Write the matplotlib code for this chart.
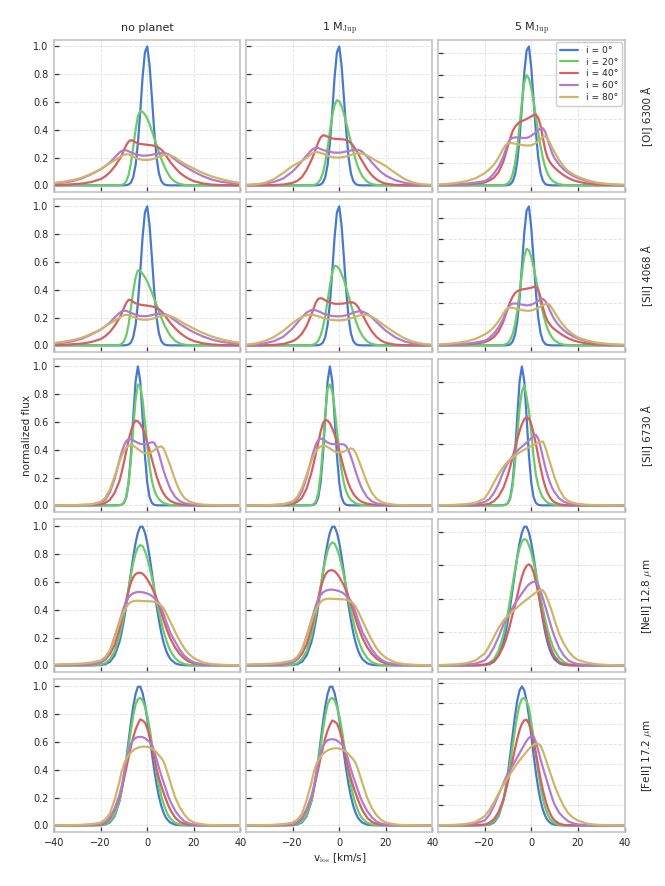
import matplotlib
matplotlib.use("Agg")
import matplotlib.pyplot as plt
import numpy as np
from matplotlib.ticker import MultipleLocator, FixedLocator

plt.rcParams["font.family"] = ["DejaVu Sans"]
plt.rcParams["mathtext.fontset"] = "cm"

# line-of-sight velocity grid [km/s]
velocity = [-40, -36, -32, -28, -24, -20, -18, -16, -14,
            -12, -11, -10, -9, -8, -7, -6, -5, -4, -3, -2, -1, 0, 1, 2, 3, 4, 5, 6, 7, 8, 9, 10,
            12, 14, 16, 18, 20, 24, 28, 32, 36, 40]

inclination_labels = ["i = 0°", "i = 20°", "i = 40°", "i = 60°", "i = 80°"]
col_titles = ["no planet", r"1 M$_{\rm Jup}$", r"5 M$_{\rm Jup}$"]
row_labels = ["[OI] 6300 Å", "[SII] 4068 Å", "[SII] 6730 Å",
              r"[NeII] 12.8 $\mu$m", r"[FeII] 17.2 $\mu$m"]
# peak flux of the i=0 profile in the units of the 5 M_Jup column (own y scale)
peak_5mjup = [1.258, 1.311, 0.90, 0.833, 1.365]

Z9 = [0] * 9
Z10 = [0] * 10

# ---------------- [OI] 6300 ----------------
blue_oi = Z9 + [0, 0, 0.0003, 0.0014, 0.006, 0.02, 0.06, 0.147, 0.305, 0.531, 0.778, 0.958, 1.0, 0.864, 0.632, 0.389, 0.201, 0.087, 0.032, 0.01, 0.0025, 0.0006, 0] + Z10
blue_5mj = Z9 + [0, 0, 0.002, 0.008, 0.027, 0.073, 0.172, 0.34, 0.569, 0.808, 0.97, 1.0, 0.849, 0.619, 0.382, 0.199, 0.088, 0.033, 0.01, 0.003, 0.001, 0, 0] + Z10

oi6300_noplanet = [
    blue_oi,
    Z9 + [0.001, 0.003, 0.01, 0.03, 0.075, 0.16, 0.28, 0.4, 0.5, 0.536, 0.53, 0.51, 0.48, 0.44, 0.39, 0.34, 0.29, 0.24, 0.19, 0.15, 0.112, 0.082, 0.056] + [0.025, 0.01, 0.003, 0.001, 0, 0, 0, 0, 0, 0],
    [0.002, 0.004, 0.008, 0.013, 0.024, 0.045, 0.065, 0.095, 0.135] + [0.185, 0.215, 0.255, 0.29, 0.315, 0.326, 0.32, 0.31, 0.303, 0.298, 0.296, 0.294, 0.292, 0.29, 0.288, 0.284, 0.279, 0.27, 0.258, 0.24, 0.215, 0.19, 0.165] + [0.125, 0.09, 0.065, 0.045, 0.03, 0.013, 0.005, 0.002, 0.001, 0],
    [0.014, 0.02, 0.03, 0.05, 0.08, 0.115, 0.138, 0.165, 0.2] + [0.235, 0.248, 0.255, 0.252, 0.245, 0.237, 0.23, 0.225, 0.22, 0.216, 0.214, 0.214, 0.215, 0.217, 0.22, 0.224, 0.227, 0.23, 0.231, 0.231, 0.23, 0.225, 0.212] + [0.185, 0.16, 0.138, 0.118, 0.098, 0.065, 0.04, 0.025, 0.017, 0.011],
    [0.017, 0.026, 0.038, 0.055, 0.083, 0.115, 0.14, 0.16, 0.18] + [0.2, 0.212, 0.22, 0.224, 0.222, 0.215, 0.206, 0.198, 0.192, 0.187, 0.184, 0.183, 0.183, 0.185, 0.188, 0.193, 0.199, 0.205, 0.211, 0.216, 0.219, 0.219, 0.215] + [0.2, 0.175, 0.155, 0.138, 0.12, 0.088, 0.062, 0.044, 0.028, 0.017],
]
oi6300_1mjup = [
    blue_oi,
    Z9 + [0.001, 0.003, 0.008, 0.02, 0.045, 0.09, 0.165, 0.27, 0.39, 0.5, 0.58, 0.613, 0.605, 0.57, 0.515, 0.45, 0.38, 0.31, 0.245, 0.185, 0.135, 0.095, 0.063] + [0.026, 0.009, 0.003, 0.001, 0, 0, 0, 0, 0, 0],
    [0, 0, 0.001, 0.002, 0.006, 0.018, 0.032, 0.06, 0.11] + [0.18, 0.22, 0.265, 0.31, 0.345, 0.36, 0.358, 0.35, 0.343, 0.338, 0.335, 0.334, 0.333, 0.332, 0.33, 0.326, 0.318, 0.305, 0.285, 0.26, 0.23, 0.2, 0.17] + [0.115, 0.072, 0.042, 0.023, 0.012, 0.003, 0.001, 0, 0, 0],
    [0.003, 0.006, 0.012, 0.025, 0.05, 0.1, 0.135, 0.175, 0.215] + [0.252, 0.265, 0.27, 0.268, 0.262, 0.255, 0.25, 0.245, 0.241, 0.238, 0.236, 0.235, 0.235, 0.237, 0.24, 0.244, 0.248, 0.251, 0.254, 0.255, 0.255, 0.25, 0.24] + [0.205, 0.165, 0.128, 0.095, 0.07, 0.037, 0.018, 0.008, 0.004, 0.002],
    [0.002, 0.006, 0.018, 0.045, 0.09, 0.14, 0.158, 0.175, 0.198] + [0.225, 0.235, 0.24, 0.238, 0.234, 0.228, 0.221, 0.214, 0.208, 0.204, 0.201, 0.2, 0.2, 0.202, 0.205, 0.209, 0.214, 0.219, 0.224, 0.228, 0.23, 0.23, 0.228] + [0.215, 0.195, 0.175, 0.158, 0.138, 0.09, 0.045, 0.018, 0.006, 0.002],
]
oi6300_5mjup = [
    blue_5mj,
    Z9 + [0.002, 0.006, 0.015, 0.036, 0.08, 0.155, 0.27, 0.43, 0.6, 0.74, 0.794, 0.77, 0.7, 0.61, 0.49, 0.38, 0.28, 0.195, 0.13, 0.085, 0.055, 0.035, 0.022] + [0.008, 0.003, 0.001, 0, 0, 0, 0, 0, 0, 0],
    [0.001, 0.002, 0.004, 0.008, 0.013, 0.02, 0.035, 0.055, 0.095] + [0.17, 0.225, 0.285, 0.34, 0.39, 0.42, 0.44, 0.455, 0.463, 0.47, 0.478, 0.487, 0.496, 0.505, 0.51, 0.485, 0.43, 0.34, 0.255, 0.2, 0.168, 0.145, 0.127] + [0.097, 0.072, 0.052, 0.037, 0.027, 0.013, 0.006, 0.003, 0.001, 0],
    [0.002, 0.004, 0.007, 0.012, 0.02, 0.03, 0.05, 0.085, 0.135] + [0.205, 0.255, 0.305, 0.333, 0.342, 0.345, 0.345, 0.344, 0.342, 0.341, 0.342, 0.347, 0.357, 0.37, 0.383, 0.397, 0.408, 0.411, 0.385, 0.33, 0.28, 0.23, 0.195] + [0.148, 0.113, 0.088, 0.068, 0.052, 0.03, 0.016, 0.009, 0.004, 0.002],
    [0.006, 0.01, 0.018, 0.03, 0.05, 0.087, 0.115, 0.15, 0.2] + [0.265, 0.29, 0.303, 0.305, 0.303, 0.3, 0.297, 0.294, 0.291, 0.288, 0.287, 0.287, 0.289, 0.295, 0.305, 0.318, 0.333, 0.347, 0.354, 0.338, 0.305, 0.27, 0.24] + [0.18, 0.135, 0.1, 0.08, 0.062, 0.037, 0.02, 0.012, 0.007, 0.004],
]

# ---------------- [SII] 4068 ----------------
sii4068_noplanet = [
    blue_oi,
    [0, 0, 0, 0, 0, 0, 0, 0, 0.001] + [0.003, 0.01, 0.03, 0.07, 0.15, 0.27, 0.39, 0.49, 0.54, 0.535, 0.515, 0.49, 0.46, 0.42, 0.38, 0.335, 0.29, 0.245, 0.2, 0.16, 0.125, 0.095, 0.068] + [0.032, 0.013, 0.005, 0.002, 0, 0, 0, 0, 0, 0],
    [0.002, 0.004, 0.008, 0.013, 0.024, 0.045, 0.066, 0.097, 0.14] + [0.195, 0.23, 0.27, 0.305, 0.328, 0.325, 0.312, 0.303, 0.297, 0.293, 0.29, 0.288, 0.286, 0.283, 0.28, 0.276, 0.27, 0.26, 0.246, 0.228, 0.205, 0.182, 0.16] + [0.122, 0.09, 0.065, 0.045, 0.031, 0.014, 0.006, 0.002, 0.001, 0],
    [0.013, 0.019, 0.029, 0.048, 0.078, 0.113, 0.137, 0.165, 0.2] + [0.232, 0.245, 0.25, 0.248, 0.242, 0.234, 0.227, 0.221, 0.216, 0.212, 0.21, 0.21, 0.211, 0.214, 0.218, 0.222, 0.225, 0.227, 0.228, 0.227, 0.223, 0.215, 0.203] + [0.178, 0.153, 0.132, 0.112, 0.094, 0.063, 0.04, 0.025, 0.016, 0.01],
    [0.017, 0.026, 0.038, 0.055, 0.083, 0.115, 0.138, 0.158, 0.178] + [0.198, 0.209, 0.217, 0.22, 0.218, 0.212, 0.204, 0.197, 0.191, 0.187, 0.185, 0.184, 0.185, 0.187, 0.191, 0.196, 0.202, 0.207, 0.212, 0.215, 0.216, 0.214, 0.21] + [0.196, 0.175, 0.155, 0.138, 0.12, 0.088, 0.062, 0.043, 0.028, 0.017],
]
sii4068_1mjup = [
    blue_oi,
    Z9 + [0.002, 0.006, 0.015, 0.035, 0.07, 0.13, 0.215, 0.32, 0.43, 0.525, 0.573, 0.57, 0.55, 0.515, 0.47, 0.415, 0.355, 0.295, 0.235, 0.18, 0.135, 0.097, 0.067] + [0.028, 0.01, 0.003, 0.001, 0, 0, 0, 0, 0, 0],
    [0, 0, 0.001, 0.003, 0.01, 0.03, 0.05, 0.085, 0.14] + [0.22, 0.265, 0.31, 0.335, 0.34, 0.335, 0.325, 0.315, 0.308, 0.303, 0.3, 0.299, 0.299, 0.3, 0.302, 0.305, 0.308, 0.31, 0.308, 0.298, 0.278, 0.25, 0.22] + [0.155, 0.1, 0.06, 0.034, 0.018, 0.005, 0.001, 0, 0, 0],
    [0.002, 0.006, 0.014, 0.03, 0.062, 0.122, 0.162, 0.203, 0.236] + [0.254, 0.255, 0.252, 0.246, 0.238, 0.23, 0.224, 0.219, 0.215, 0.212, 0.21, 0.209, 0.209, 0.21, 0.213, 0.217, 0.222, 0.228, 0.235, 0.24, 0.244, 0.245, 0.243] + [0.228, 0.2, 0.168, 0.135, 0.105, 0.058, 0.028, 0.012, 0.005, 0.002],
    [0.005, 0.013, 0.03, 0.06, 0.105, 0.16, 0.185, 0.205, 0.217] + [0.22, 0.218, 0.214, 0.209, 0.203, 0.197, 0.192, 0.188, 0.185, 0.182, 0.181, 0.18, 0.18, 0.181, 0.183, 0.186, 0.19, 0.195, 0.2, 0.206, 0.212, 0.217, 0.22] + [0.218, 0.205, 0.185, 0.16, 0.135, 0.09, 0.05, 0.024, 0.01, 0.004],
]
sii4068_5mjup = [
    blue_5mj,
    Z9 + [0.003, 0.008, 0.018, 0.04, 0.08, 0.145, 0.245, 0.375, 0.52, 0.64, 0.695, 0.685, 0.635, 0.565, 0.48, 0.395, 0.31, 0.235, 0.17, 0.12, 0.082, 0.055, 0.036] + [0.014, 0.005, 0.002, 0, 0, 0, 0, 0, 0, 0],
    [0.001, 0.002, 0.004, 0.008, 0.013, 0.022, 0.037, 0.06, 0.1] + [0.17, 0.22, 0.27, 0.315, 0.35, 0.375, 0.39, 0.398, 0.402, 0.405, 0.408, 0.411, 0.415, 0.42, 0.424, 0.4, 0.345, 0.275, 0.215, 0.175, 0.15, 0.13, 0.115] + [0.09, 0.068, 0.05, 0.036, 0.026, 0.013, 0.006, 0.003, 0.001, 0],
    [0.002, 0.004, 0.007, 0.012, 0.02, 0.033, 0.052, 0.085, 0.13] + [0.19, 0.23, 0.27, 0.292, 0.3, 0.302, 0.3, 0.297, 0.293, 0.29, 0.288, 0.289, 0.293, 0.3, 0.31, 0.32, 0.33, 0.335, 0.32, 0.29, 0.25, 0.215, 0.185] + [0.14, 0.108, 0.083, 0.064, 0.049, 0.028, 0.015, 0.008, 0.004, 0.002],
    [0.006, 0.01, 0.017, 0.028, 0.046, 0.078, 0.1, 0.132, 0.175] + [0.228, 0.255, 0.268, 0.272, 0.27, 0.266, 0.262, 0.258, 0.254, 0.251, 0.249, 0.249, 0.251, 0.256, 0.263, 0.271, 0.28, 0.289, 0.296, 0.3, 0.29, 0.265, 0.238] + [0.185, 0.14, 0.105, 0.078, 0.057, 0.034, 0.02, 0.012, 0.007, 0.004],
]

# ---------------- [SII] 6730 ----------------
blue_sii6730 = Z9 + [0.001, 0.004, 0.017, 0.059, 0.163, 0.36, 0.635, 0.893, 1.0, 0.893, 0.635, 0.36, 0.163, 0.059, 0.017, 0.004, 0.001, 0, 0, 0, 0, 0, 0] + Z10
sii6730_noplanet = [
    blue_sii6730,
    Z9 + [0.002, 0.005, 0.02, 0.06, 0.16, 0.33, 0.56, 0.76, 0.87, 0.86, 0.76, 0.6, 0.43, 0.28, 0.175, 0.11, 0.07, 0.045, 0.028, 0.017, 0.01, 0.006, 0.003] + [0.001, 0, 0, 0, 0, 0, 0, 0, 0, 0],
    [0, 0, 0, 0.001, 0.002, 0.007, 0.017, 0.04, 0.09] + [0.17, 0.235, 0.31, 0.39, 0.47, 0.535, 0.585, 0.61, 0.605, 0.585, 0.555, 0.51, 0.455, 0.395, 0.33, 0.27, 0.21, 0.16, 0.118, 0.086, 0.062, 0.044, 0.031] + [0.016, 0.008, 0.004, 0.002, 0.001, 0, 0, 0, 0, 0],
    [0, 0.001, 0.001, 0.003, 0.006, 0.018, 0.04, 0.095, 0.19] + [0.32, 0.38, 0.43, 0.463, 0.477, 0.476, 0.468, 0.458, 0.449, 0.443, 0.44, 0.44, 0.443, 0.449, 0.455, 0.45, 0.42, 0.37, 0.31, 0.25, 0.2, 0.155, 0.115] + [0.06, 0.03, 0.015, 0.008, 0.004, 0.001, 0, 0, 0, 0],
    [0, 0.001, 0.001, 0.003, 0.007, 0.025, 0.055, 0.115, 0.21] + [0.31, 0.355, 0.39, 0.415, 0.43, 0.435, 0.43, 0.418, 0.405, 0.392, 0.382, 0.376, 0.375, 0.378, 0.386, 0.397, 0.41, 0.42, 0.425, 0.41, 0.37, 0.325, 0.28] + [0.18, 0.1, 0.052, 0.028, 0.016, 0.005, 0.002, 0.001, 0, 0],
]
sii6730_1mjup = [
    blue_sii6730,
    Z9 + [0.003, 0.008, 0.03, 0.09, 0.22, 0.42, 0.66, 0.84, 0.87, 0.82, 0.7, 0.54, 0.38, 0.25, 0.16, 0.1, 0.063, 0.04, 0.025, 0.015, 0.009, 0.005, 0.003] + [0.001, 0, 0, 0, 0, 0, 0, 0, 0, 0],
    [0, 0, 0, 0.001, 0.002, 0.01, 0.025, 0.055, 0.12] + [0.23, 0.3, 0.375, 0.45, 0.53, 0.59, 0.615, 0.61, 0.59, 0.555, 0.51, 0.455, 0.395, 0.33, 0.265, 0.205, 0.155, 0.115, 0.085, 0.062, 0.045, 0.032, 0.023] + [0.012, 0.006, 0.003, 0.001, 0, 0, 0, 0, 0, 0],
    [0, 0, 0.001, 0.003, 0.007, 0.02, 0.045, 0.1, 0.2] + [0.33, 0.39, 0.44, 0.47, 0.48, 0.478, 0.465, 0.452, 0.445, 0.441, 0.44, 0.44, 0.44, 0.44, 0.438, 0.425, 0.395, 0.35, 0.3, 0.245, 0.195, 0.15, 0.112] + [0.058, 0.029, 0.014, 0.007, 0.004, 0.001, 0, 0, 0, 0],
    [0, 0, 0.001, 0.003, 0.008, 0.028, 0.06, 0.125, 0.22] + [0.32, 0.36, 0.39, 0.41, 0.425, 0.43, 0.428, 0.42, 0.41, 0.398, 0.388, 0.382, 0.38, 0.382, 0.388, 0.396, 0.404, 0.41, 0.405, 0.38, 0.34, 0.295, 0.25] + [0.16, 0.09, 0.047, 0.025, 0.014, 0.004, 0.001, 0, 0, 0],
]
sii6730_5mjup = [
    blue_sii6730,
    Z9 + [0.001, 0.004, 0.015, 0.05, 0.14, 0.3, 0.5, 0.7, 0.82, 0.865, 0.78, 0.68, 0.53, 0.35, 0.22, 0.14, 0.09, 0.055, 0.035, 0.02, 0.012, 0.007, 0.004] + [0.001, 0, 0, 0, 0, 0, 0, 0, 0, 0],
    [0, 0, 0, 0, 0.001, 0.005, 0.012, 0.03, 0.065] + [0.125, 0.17, 0.22, 0.28, 0.345, 0.41, 0.475, 0.535, 0.585, 0.62, 0.635, 0.625, 0.585, 0.52, 0.44, 0.355, 0.27, 0.195, 0.135, 0.09, 0.058, 0.036, 0.022] + [0.008, 0.003, 0.001, 0, 0, 0, 0, 0, 0, 0],
    [0, 0.001, 0.002, 0.004, 0.008, 0.024, 0.045, 0.09, 0.155] + [0.24, 0.275, 0.305, 0.33, 0.355, 0.375, 0.392, 0.408, 0.423, 0.437, 0.452, 0.467, 0.482, 0.497, 0.508, 0.48, 0.42, 0.345, 0.275, 0.215, 0.165, 0.125, 0.095] + [0.05, 0.026, 0.014, 0.007, 0.004, 0.001, 0, 0, 0, 0],
    [0.001, 0.002, 0.004, 0.008, 0.018, 0.05, 0.1, 0.165, 0.225] + [0.275, 0.298, 0.316, 0.331, 0.345, 0.358, 0.37, 0.381, 0.391, 0.4, 0.41, 0.418, 0.427, 0.435, 0.443, 0.45, 0.457, 0.46, 0.42, 0.365, 0.31, 0.255, 0.2] + [0.115, 0.058, 0.03, 0.018, 0.011, 0.004, 0.002, 0.001, 0, 0],
]

# ---------------- [NeII] 12.8 um ----------------
blue_neii = [0, 0, 0, 0, 0, 0.002, 0.008, 0.026, 0.071] + [0.164, 0.236, 0.325, 0.43, 0.546, 0.667, 0.783, 0.882, 0.956, 0.998, 0.998, 0.956, 0.882, 0.783, 0.667, 0.546, 0.43, 0.325, 0.236, 0.164, 0.11, 0.071, 0.044] + [0.015, 0.004, 0.001, 0, 0, 0, 0, 0, 0, 0]
neii128_noplanet = [
    blue_neii,
    [0, 0, 0, 0, 0, 0.005, 0.016, 0.043, 0.1] + [0.205, 0.277, 0.362, 0.456, 0.555, 0.651, 0.737, 0.806, 0.85, 0.866, 0.858, 0.823, 0.773, 0.707, 0.632, 0.55, 0.467, 0.386, 0.312, 0.245, 0.189, 0.141, 0.103] + [0.051, 0.023, 0.009, 0.003, 0.001, 0, 0, 0, 0, 0],
    [0.001, 0.001, 0.002, 0.003, 0.006, 0.02, 0.042, 0.08, 0.145] + [0.255, 0.325, 0.4, 0.47, 0.54, 0.595, 0.635, 0.657, 0.666, 0.667, 0.66, 0.643, 0.62, 0.59, 0.56, 0.522, 0.48, 0.435, 0.38, 0.325, 0.275, 0.23, 0.19] + [0.127, 0.08, 0.047, 0.026, 0.014, 0.005, 0.002, 0.001, 0.001, 0],
    [0.002, 0.003, 0.004, 0.006, 0.01, 0.02, 0.045, 0.1, 0.205] + [0.31, 0.365, 0.42, 0.46, 0.49, 0.508, 0.519, 0.525, 0.528, 0.528, 0.526, 0.522, 0.517, 0.51, 0.5, 0.485, 0.47, 0.45, 0.415, 0.37, 0.32, 0.275, 0.23] + [0.17, 0.11, 0.068, 0.04, 0.021, 0.007, 0.003, 0.002, 0.001, 0.001],
    [0.006, 0.008, 0.01, 0.013, 0.02, 0.035, 0.06, 0.11, 0.2] + [0.3, 0.35, 0.39, 0.42, 0.443, 0.456, 0.462, 0.465, 0.465, 0.464, 0.463, 0.462, 0.462, 0.461, 0.46, 0.457, 0.452, 0.445, 0.43, 0.41, 0.38, 0.345, 0.31] + [0.24, 0.175, 0.12, 0.08, 0.052, 0.02, 0.008, 0.004, 0.002, 0.001],
]
neii128_1mjup = [
    blue_neii,
    [0, 0, 0, 0, 0, 0.005, 0.016, 0.044, 0.102] + [0.21, 0.283, 0.37, 0.466, 0.567, 0.665, 0.753, 0.824, 0.869, 0.885, 0.877, 0.841, 0.79, 0.723, 0.646, 0.562, 0.477, 0.394, 0.319, 0.25, 0.193, 0.144, 0.105] + [0.052, 0.023, 0.009, 0.003, 0.001, 0, 0, 0, 0, 0],
    [0.001, 0.001, 0.002, 0.003, 0.006, 0.021, 0.043, 0.082, 0.149] + [0.262, 0.334, 0.411, 0.483, 0.555, 0.611, 0.652, 0.675, 0.684, 0.685, 0.678, 0.66, 0.637, 0.606, 0.575, 0.536, 0.493, 0.447, 0.39, 0.334, 0.282, 0.236, 0.195] + [0.13, 0.082, 0.048, 0.027, 0.014, 0.005, 0.002, 0.001, 0.001, 0],
    [0.002, 0.003, 0.004, 0.006, 0.01, 0.021, 0.046, 0.103, 0.212] + [0.32, 0.377, 0.433, 0.475, 0.506, 0.524, 0.536, 0.542, 0.545, 0.545, 0.543, 0.539, 0.534, 0.526, 0.516, 0.5, 0.485, 0.464, 0.428, 0.382, 0.33, 0.284, 0.237] + [0.175, 0.114, 0.07, 0.041, 0.022, 0.007, 0.003, 0.002, 0.001, 0.001],
    [0.006, 0.008, 0.01, 0.013, 0.021, 0.036, 0.062, 0.114, 0.206] + [0.31, 0.361, 0.402, 0.433, 0.457, 0.471, 0.477, 0.48, 0.48, 0.479, 0.478, 0.477, 0.477, 0.476, 0.475, 0.472, 0.466, 0.459, 0.444, 0.423, 0.392, 0.356, 0.32] + [0.248, 0.18, 0.124, 0.083, 0.054, 0.021, 0.008, 0.004, 0.002, 0.001],
]
neii128_5mjup = [
    blue_neii,
    [0, 0, 0, 0, 0, 0.005, 0.017, 0.045, 0.105] + [0.215, 0.291, 0.38, 0.479, 0.583, 0.684, 0.774, 0.846, 0.893, 0.909, 0.901, 0.864, 0.812, 0.742, 0.664, 0.578, 0.49, 0.405, 0.328, 0.257, 0.198, 0.148, 0.108] + [0.054, 0.024, 0.009, 0.003, 0.001, 0, 0, 0, 0, 0],
    [0, 0, 0, 0, 0.001, 0.005, 0.013, 0.032, 0.07] + [0.135, 0.181, 0.236, 0.299, 0.368, 0.43, 0.5, 0.575, 0.638, 0.686, 0.717, 0.727, 0.713, 0.671, 0.6, 0.52, 0.432, 0.345, 0.27, 0.202, 0.144, 0.098, 0.065] + [0.025, 0.008, 0.002, 0.001, 0, 0, 0, 0, 0, 0],
    [0.001, 0.002, 0.003, 0.006, 0.012, 0.035, 0.072, 0.13, 0.205] + [0.29, 0.325, 0.355, 0.385, 0.415, 0.443, 0.47, 0.494, 0.518, 0.542, 0.565, 0.583, 0.595, 0.601, 0.6, 0.575, 0.535, 0.482, 0.425, 0.368, 0.31, 0.255, 0.205] + [0.125, 0.07, 0.035, 0.018, 0.009, 0.003, 0.001, 0, 0, 0],
    [0.002, 0.004, 0.007, 0.015, 0.035, 0.085, 0.14, 0.205, 0.27] + [0.32, 0.34, 0.356, 0.372, 0.388, 0.403, 0.418, 0.433, 0.447, 0.46, 0.473, 0.486, 0.5, 0.512, 0.525, 0.536, 0.543, 0.54, 0.515, 0.475, 0.43, 0.38, 0.325] + [0.225, 0.155, 0.1, 0.062, 0.04, 0.018, 0.008, 0.003, 0.001, 0],
]

# ---------------- [FeII] 17.2 um ----------------
blue_feii = [0, 0, 0, 0, 0, 0.001, 0.006, 0.021, 0.066] + [0.168, 0.249, 0.352, 0.474, 0.607, 0.739, 0.857, 0.946, 0.998, 0.998, 0.952, 0.873, 0.766, 0.644, 0.518, 0.399, 0.294, 0.208, 0.141, 0.091, 0.056, 0.034, 0.019] + [0.005, 0.001, 0, 0, 0, 0, 0, 0, 0, 0]
green_feii = [0, 0, 0, 0, 0.001, 0.003, 0.009, 0.028, 0.075] + [0.175, 0.25, 0.345, 0.455, 0.57, 0.685, 0.79, 0.87, 0.91, 0.917, 0.9, 0.855, 0.79, 0.7, 0.59, 0.48, 0.375, 0.29, 0.213, 0.155, 0.108, 0.073, 0.048] + [0.018, 0.006, 0.002, 0.001, 0, 0, 0, 0, 0, 0]
feii172_noplanet = [
    blue_feii,
    green_feii,
    [0, 0, 0, 0, 0.001, 0.006, 0.018, 0.05, 0.11] + [0.2, 0.265, 0.335, 0.41, 0.49, 0.565, 0.635, 0.69, 0.73, 0.763, 0.755, 0.74, 0.7, 0.64, 0.565, 0.48, 0.405, 0.34, 0.285, 0.235, 0.188, 0.145, 0.108] + [0.055, 0.025, 0.011, 0.005, 0.002, 0.001, 0, 0, 0, 0],
    [0, 0, 0.001, 0.002, 0.006, 0.01, 0.024, 0.06, 0.12] + [0.215, 0.28, 0.37, 0.455, 0.53, 0.584, 0.615, 0.63, 0.636, 0.637, 0.635, 0.628, 0.615, 0.6, 0.58, 0.535, 0.475, 0.415, 0.36, 0.31, 0.26, 0.21, 0.17] + [0.105, 0.06, 0.028, 0.013, 0.006, 0.002, 0.001, 0, 0, 0],
    [0.001, 0.001, 0.002, 0.004, 0.008, 0.02, 0.042, 0.085, 0.185] + [0.31, 0.385, 0.44, 0.48, 0.505, 0.525, 0.54, 0.551, 0.559, 0.564, 0.567, 0.567, 0.565, 0.56, 0.552, 0.54, 0.525, 0.505, 0.485, 0.46, 0.415, 0.36, 0.305] + [0.2, 0.128, 0.075, 0.04, 0.02, 0.006, 0.002, 0.001, 0, 0],
]
feii172_1mjup = [
    blue_feii,
    green_feii,
    [0, 0, 0, 0, 0.001, 0.006, 0.018, 0.05, 0.109] + [0.198, 0.262, 0.332, 0.406, 0.485, 0.559, 0.629, 0.683, 0.723, 0.755, 0.747, 0.733, 0.693, 0.634, 0.559, 0.475, 0.401, 0.337, 0.282, 0.233, 0.186, 0.144, 0.107] + [0.054, 0.025, 0.011, 0.005, 0.002, 0.001, 0, 0, 0, 0],
    [0, 0, 0.001, 0.002, 0.006, 0.01, 0.023, 0.058, 0.117] + [0.209, 0.272, 0.36, 0.443, 0.516, 0.568, 0.598, 0.613, 0.619, 0.62, 0.618, 0.611, 0.598, 0.584, 0.564, 0.521, 0.462, 0.404, 0.35, 0.302, 0.253, 0.204, 0.165] + [0.102, 0.058, 0.027, 0.013, 0.006, 0.002, 0.001, 0, 0, 0],
    [0.001, 0.001, 0.002, 0.004, 0.008, 0.02, 0.041, 0.083, 0.181] + [0.303, 0.377, 0.431, 0.47, 0.494, 0.514, 0.529, 0.539, 0.547, 0.552, 0.555, 0.555, 0.553, 0.548, 0.54, 0.529, 0.514, 0.494, 0.475, 0.45, 0.406, 0.352, 0.299] + [0.196, 0.125, 0.073, 0.039, 0.02, 0.006, 0.002, 0.001, 0, 0],
]
feii172_5mjup = [
    [0, 0, 0, 0, 0, 0.001, 0.005, 0.02, 0.067] + [0.177, 0.266, 0.378, 0.509, 0.649, 0.784, 0.897, 0.973, 1.0, 0.973, 0.897, 0.784, 0.649, 0.509, 0.378, 0.266, 0.177, 0.112, 0.067, 0.038, 0.02, 0.01, 0.005] + [0.001, 0, 0, 0, 0, 0, 0, 0, 0, 0],
    [0, 0, 0, 0, 0.001, 0.003, 0.009, 0.028, 0.075] + [0.175, 0.25, 0.345, 0.455, 0.57, 0.685, 0.79, 0.87, 0.91, 0.916, 0.895, 0.845, 0.74, 0.63, 0.5, 0.38, 0.275, 0.19, 0.125, 0.08, 0.048, 0.028, 0.016] + [0.004, 0.001, 0, 0, 0, 0, 0, 0, 0, 0],
    [0, 0, 0, 0, 0.001, 0.006, 0.018, 0.044, 0.096] + [0.184, 0.244, 0.313, 0.39, 0.47, 0.549, 0.623, 0.686, 0.732, 0.756, 0.761, 0.732, 0.678, 0.604, 0.517, 0.425, 0.335, 0.254, 0.186, 0.13, 0.088, 0.056, 0.035] + [0.012, 0.003, 0.001, 0, 0, 0, 0, 0, 0, 0],
    [0, 0.001, 0.002, 0.005, 0.013, 0.035, 0.075, 0.14, 0.22] + [0.3, 0.34, 0.375, 0.405, 0.43, 0.46, 0.49, 0.52, 0.55, 0.58, 0.608, 0.63, 0.643, 0.64, 0.6, 0.54, 0.475, 0.415, 0.36, 0.305, 0.25, 0.195, 0.15] + [0.09, 0.055, 0.028, 0.014, 0.007, 0.002, 0.001, 0, 0, 0],
    [0.001, 0.002, 0.004, 0.01, 0.024, 0.065, 0.11, 0.165, 0.23] + [0.292, 0.318, 0.344, 0.37, 0.396, 0.421, 0.445, 0.467, 0.489, 0.51, 0.53, 0.55, 0.567, 0.581, 0.589, 0.587, 0.573, 0.535, 0.485, 0.435, 0.385, 0.335, 0.285] + [0.205, 0.135, 0.085, 0.055, 0.035, 0.012, 0.004, 0.002, 0.001, 0],
]

panels = [
    [oi6300_noplanet, oi6300_1mjup, oi6300_5mjup],
    [sii4068_noplanet, sii4068_1mjup, sii4068_5mjup],
    [sii6730_noplanet, sii6730_1mjup, sii6730_5mjup],
    [neii128_noplanet, neii128_1mjup, neii128_5mjup],
    [feii172_noplanet, feii172_1mjup, feii172_5mjup],
]
for r, row in enumerate(panels):
    for c, panel in enumerate(row):
        for k, curve in enumerate(panel):
            if len(curve) != len(velocity):
                raise ValueError(f"row {r} col {c} curve {k}: {len(curve)} values")

colors = ["#4878d0", "#6acc64", "#d65f5f", "#b07cd0", "#d0b567"]
text_color = "#262626"

fig = plt.figure(figsize=(6.65, 8.86), dpi=100)
gs = fig.add_gridspec(5, 3, left=54 / 665, right=624.5 / 665,
                      top=1 - 39.5 / 886, bottom=1 - 832.3 / 886,
                      wspace=0.0295, hspace=0.0471)

axes = [[None] * 3 for _ in range(5)]
for r in range(5):
    for c in range(3):
        ax = fig.add_subplot(gs[r, c])
        axes[r][c] = ax
        scale = 1.0 if c < 2 else peak_5mjup[r]
        for k in range(5):
            y = np.asarray(panels[r][c][k], dtype=float) * scale
            ax.plot(velocity, y, color=colors[k], lw=1.6,
                    label=inclination_labels[k], solid_capstyle="round",
                    solid_joinstyle="round")
        ax.set_xlim(-40, 40)
        ax.set_ylim(-0.05 * scale, 1.05 * scale)
        if c == 0:
            ax.xaxis.set_major_locator(FixedLocator([-40, -20, 0, 20, 40]))
        else:
            ax.xaxis.set_major_locator(FixedLocator([-20, 0, 20, 40]))
        ax.yaxis.set_major_locator(MultipleLocator(0.2))
        ax.tick_params(direction="in", length=3.5, width=0.9, color="#333333",
                       labelcolor=text_color, labelsize=7, pad=4,
                       top=False, right=False,
                       labelbottom=(r == 4), labelleft=(c == 0))
        ax.grid(True, linestyle=(0, (4, 2)), linewidth=0.6, color="#dedede")
        ax.set_axisbelow(True)
        for s in ax.spines.values():
            s.set_color("#c4c4c4")
            s.set_linewidth(1.2)
        if r == 0:
            ax.set_title(col_titles[c], fontsize=8, pad=6, color=text_color)
        if r == 0 and c == 2:
            leg = ax.legend(loc="upper right", fontsize=6.6, frameon=True,
                            fancybox=True, framealpha=1.0, edgecolor="#cccccc",
                            borderpad=0.4, labelspacing=0.3, handlelength=2.0,
                            handletextpad=0.8, borderaxespad=0.3)
            for t in leg.get_texts():
                t.set_color(text_color)

# row labels on the right
for r in range(5):
    pos = axes[r][2].get_position()
    fig.text(pos.x1 + 23 / 665, (pos.y0 + pos.y1) / 2, row_labels[r],
             rotation=90, ha="center", va="center", fontsize=7.5, color=text_color)

pos = axes[2][0].get_position()
fig.text(27 / 665, (pos.y0 + pos.y1) / 2, "normalized flux", rotation=90,
         ha="center", va="center", fontsize=7.5, color=text_color)
pos = axes[4][1].get_position()
fig.text((pos.x0 + pos.x1) / 2, 1 - 858 / 886, r"v$_{\rm los}$ [km/s]",
         ha="center", va="center", fontsize=7.5, color=text_color)

fig.savefig("out.png", dpi=100, facecolor="white")
